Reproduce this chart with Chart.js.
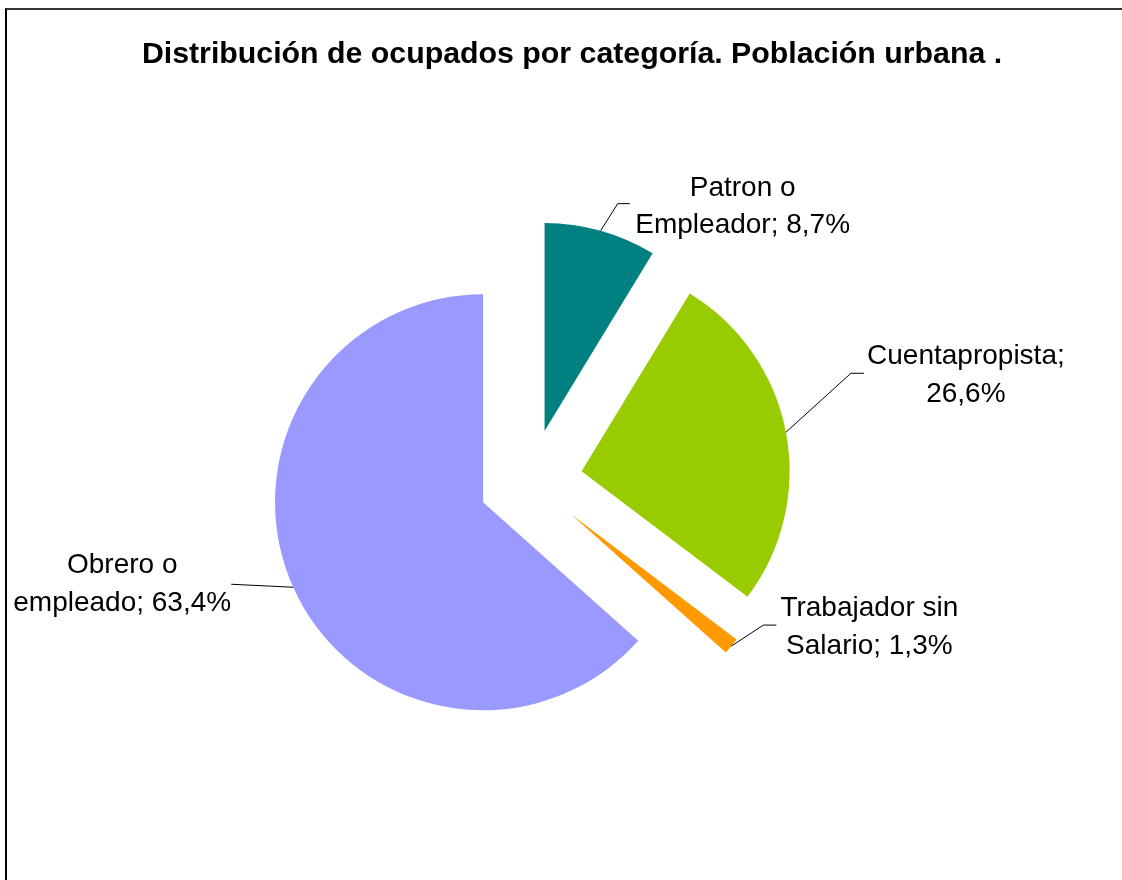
<!DOCTYPE html>
<html lang="es">
<head>
  <meta charset="UTF-8">
  <title>Distribución de ocupados por categoría</title>
  <script src="https://cdn.jsdelivr.net/npm/chart.js"></script>
  <style>
    body {
      margin: 0;
      background: #fff;
    }
    .frame {
      position: relative;
      width: 1122px;
      height: 880px;
      overflow: hidden;
    }
    .frame canvas {
      position: absolute;
      left: 0;
      top: 0;
    }
    .border {
      position: absolute;
      left: 5px;
      top: 8px;
      right: 0;
      bottom: -4px;
      border-top: 2px solid #333;
      border-left: 2px solid #000;
      pointer-events: none;
    }
  </style>
</head>
<body>
  <div class="frame">
    <canvas id="pieChart" width="1122" height="880"></canvas>
    <div class="border"></div>
  </div>

  <script>
    const title = 'Distribución de ocupados por categoría. Población urbana .';
    const categories = ['Patron o\nEmpleador', 'Cuentapropista', 'Trabajador sin\nSalario', 'Obrero o\nempleado'];
    const shares = [8.7, 26.6, 1.3, 63.4];
    const colors = ['#008080', '#99CC00', '#FF9900', '#9999FF'];

    const EXPLODE = 52;
    const FONT = '"Liberation Sans", Arial, Helvetica, sans-serif';
    const LINE_H = 37.5;

    // leader bend / end and text anchor, relative to where the leader leaves the slice
    const labelLayout = [
      { bend: [17, -27], end: [29, -27], text: [142, -35] },
      { bend: [65, -59], end: [78, -59], text: [180, -68] },
      { bend: [32, -21], end: [45, -21], text: [138, -30] },
      { bend: [-62, -3], end: [-62, -3], text: [-171, -14] }
    ];

    function labelLines(i) {
      const pct = shares[i].toFixed(1).replace('.', ',') + '%';
      const cat = categories[i];
      if (cat.includes('\n')) return (cat + '; ' + pct).split('\n');
      return [cat + ';', pct];
    }

    const explodePlugin = {
      id: 'explode',
      beforeDatasetsDraw(chart) {
        const ctx = chart.ctx;
        chart.getDatasetMeta(0).data.forEach(arc => {
          const half = (arc.startAngle + arc.endAngle) / 2;
          ctx.save();
          ctx.translate(Math.cos(half) * EXPLODE, Math.sin(half) * EXPLODE);
          arc.draw(ctx);
          ctx.restore();
        });
        return false;
      },
      afterDraw(chart) {
        const ctx = chart.ctx;
        ctx.save();
        ctx.font = '28px ' + FONT;
        ctx.fillStyle = '#000';
        ctx.strokeStyle = '#000';
        ctx.lineWidth = 1;
        ctx.textAlign = 'center';
        ctx.textBaseline = 'alphabetic';
        chart.getDatasetMeta(0).data.forEach((arc, i) => {
          const half = (arc.startAngle + arc.endAngle) / 2;
          const r = EXPLODE + arc.outerRadius;
          const ex = arc.x + Math.cos(half) * r;
          const ey = arc.y + Math.sin(half) * r;
          const lay = labelLayout[i];
          ctx.beginPath();
          ctx.moveTo(ex, ey);
          ctx.lineTo(ex + lay.bend[0], ey + lay.bend[1]);
          ctx.lineTo(ex + lay.end[0], ey + lay.end[1]);
          ctx.stroke();
          labelLines(i).forEach((line, k) => {
            ctx.fillText(line, ex + lay.text[0], ey + lay.text[1] + k * LINE_H);
          });
        });

        ctx.font = 'bold 30.3px ' + FONT;
        ctx.fillText(title, 572, 63);
        ctx.restore();
      }
    };

    new Chart(document.getElementById('pieChart'), {
      type: 'pie',
      data: {
        labels: categories,
        datasets: [{
          data: shares,
          backgroundColor: colors,
          borderWidth: 0
        }]
      },
      options: {
        responsive: false,
        animation: false,
        radius: 208,
        layout: { padding: { left: 0, right: 61, top: 82, bottom: 0 } },
        plugins: {
          legend: { display: false },
          tooltip: { enabled: false },
          title: { display: false }
        }
      },
      plugins: [explodePlugin]
    });
  </script>
</body>
</html>
